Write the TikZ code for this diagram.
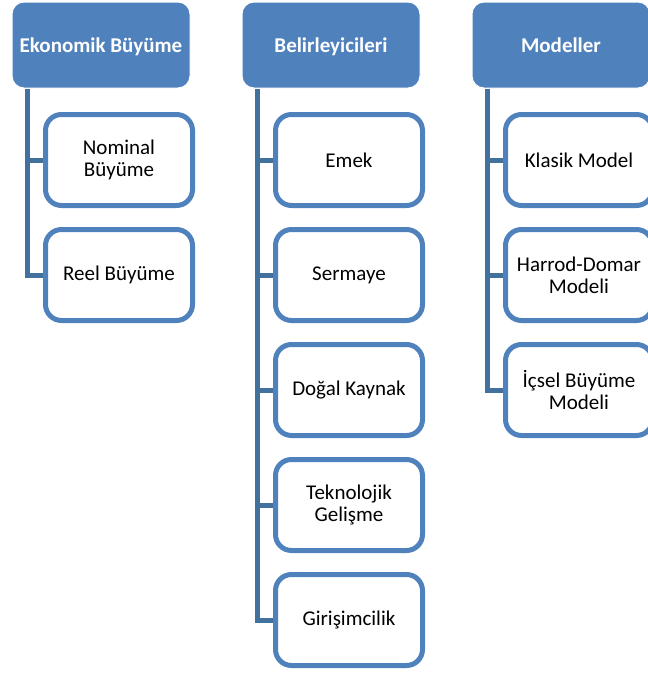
\documentclass[tikz,border=0pt]{standalone}
\usepackage{fontspec}
\setmainfont{Carlito}
\usetikzlibrary{calc,backgrounds}
\definecolor{hdr}{HTML}{4F81BD}
\definecolor{conncol}{HTML}{41719C}
\definecolor{bord}{HTML}{4F81BD}
\tikzset{
  hdrbox/.style={draw=white, line width=1pt, fill=hdr, rounded corners=12pt,
    minimum width=178pt, minimum height=86pt, inner sep=0pt,
    text height=16pt, text depth=2pt,
    text=white, font=\fontsize{21}{22}\selectfont\bfseries, align=center},
  childbox/.style={draw=bord, line width=5pt, fill=white, rounded corners=16pt,
    minimum width=147pt, minimum height=91pt, inner sep=0pt,
    text=black, font=\fontsize{21}{22}\selectfont, align=center},
  conn/.style={draw=conncol, line width=5pt}
}
\begin{document}
\begin{tikzpicture}[x=1pt,y=-1pt]
\useasboundingbox (0,0) rectangle (648,675);
% column 1
\node[hdrbox] (h1) at (101,45) {Ekonomik Büyüme};
\node[childbox] (c11) at (119,160) {Nominal\\Büyüme};
\node[childbox] (c12) at (119,275) {Reel Büyüme};
% column 2
\node[hdrbox] (h2) at (331,45) {Belirleyicileri};
\node[childbox] (c21) at (349,160) {Emek};
\node[childbox] (c22) at (349,275) {Sermaye};
\node[childbox] (c23) at (349,390) {Doğal Kaynak};
\node[childbox] (c24) at (349,505) {Teknolojik\\Gelişme};
\node[childbox] (c25) at (349,620) {Girişimcilik};
% column 3
\node[hdrbox] (h3) at (561,45) {Modeller};
\node[childbox] (c31) at (579,160) {Klasik Model};
\node[childbox] (c32) at (579,275) {Harrod-Domar\\Modeli};
\node[childbox] (c33) at (579,390) {İçsel Büyüme\\Modeli};
% connectors
\begin{scope}[on background layer]
\draw[conn] ($(h1.south west)+(16,0)$) |- (c12.west);
\draw[conn] ($(h1.south west)+(16,0)$) |- (c11.west);
\draw[conn] ($(h2.south west)+(16,0)$) |- (c25.west);
\foreach \c in {c21,c22,c23,c24}
  \draw[conn] ($(h2.south west)+(16,0)$) |- (\c.west);
\draw[conn] ($(h3.south west)+(16,0)$) |- (c33.west);
\foreach \c in {c31,c32}
  \draw[conn] ($(h3.south west)+(16,0)$) |- (\c.west);
\end{scope}
\end{tikzpicture}
\end{document}
